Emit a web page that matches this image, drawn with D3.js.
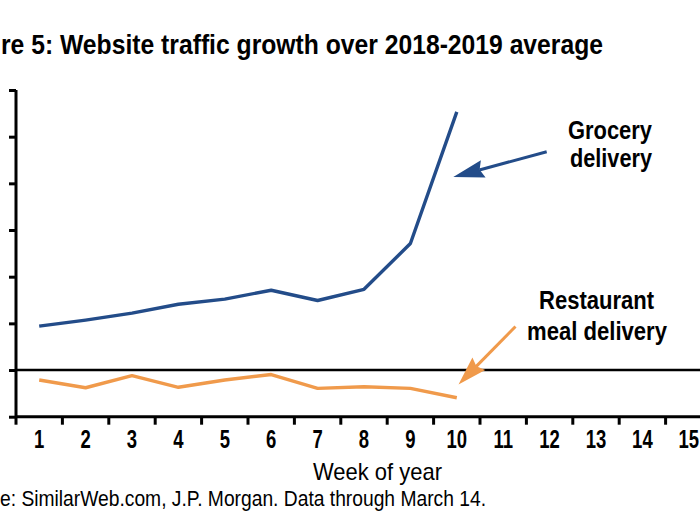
<!DOCTYPE html>
<html>
<head>
<meta charset="utf-8">
<script src="https://cdn.jsdelivr.net/npm/d3@7"></script>
<style>
  html, body { margin: 0; padding: 0; background: #fff; overflow: hidden; }
  text { font-family: "Liberation Sans", Arial, sans-serif; }
</style>
</head>
<body>
<svg id="chart" width="700" height="525"></svg>
<script>
// ---- data ----
const weeks = [1,2,3,4,5,6,7,8,9,10,11,12,13,14,15];
const dataWeeks = [1,2,3,4,5,6,7,8,9,10];
const grocery = [47, 53.5, 61, 70.5, 76, 85.5, 74.5, 86.5, 135.5, 276.5];
const restaurant = [-10.7, -19, -6.1, -18.5, -10.7, -4.8, -19.6, -17.9, -19.6, -29.7];
const yTicks = [-50, 0, 50, 100, 150, 200, 250, 300];
const baseline = 0;
const title = "re 5: Website traffic growth over 2018-2019 average";
const xTitle = "Week of year";
const source = "e: SimilarWeb.com, J.P. Morgan. Data through March 14.";
const groceryLabel = ["Grocery", "delivery"];
const restaurantLabel = ["Restaurant", "meal delivery"];

const blue = "#234C89";
const orange = "#F09A4B";

const svg = d3.select("#chart");

const x = d3.scaleBand().domain(weeks).range([16, 16 + 46.4 * weeks.length]).padding(0);
const y = d3.scaleLinear().domain([-50, 300]).range([416.7, 90]);
const cx = w => x(w) + x.bandwidth() / 2;

// helper: condensed text via textLength
function fitText(sel, txt, x0, y0, width, size, weight, anchor) {
  return sel.append("text").attr("x", x0).attr("y", y0)
    .attr("text-anchor", anchor || "start")
    .attr("font-size", size).attr("font-weight", weight || "normal").attr("fill", "#000")
    .attr("textLength", width).attr("lengthAdjust", "spacingAndGlyphs").text(txt);
}

// Title
fitText(svg, title, 1, 54, 602, 28, "bold");

// Y axis
const yAxis = d3.axisLeft(y).tickValues(yTicks).tickSize(7).tickFormat("");
const gy = svg.append("g").attr("transform", "translate(16,0)").call(yAxis);
gy.select(".domain").attr("stroke", "#000").attr("stroke-width", 3).attr("d", `M0,${y(300)}V${y(-50)}`);
gy.selectAll(".tick line").attr("stroke", "#000").attr("stroke-width", 3);

// X axis (labels centred in bands, tick marks at band edges)
const xAxis = d3.axisBottom(x).tickSize(0).tickPadding(0);
const gx = svg.append("g").attr("transform", `translate(0,${y(-50)})`).call(xAxis);
gx.select(".domain").attr("stroke", "#000").attr("stroke-width", 3).attr("d", `M16,0H700`);
gx.selectAll(".tick text").attr("font-size", 25).attr("font-weight", "bold").attr("fill", "#000")
  .attr("font-family", null).attr("dy", null).attr("y", 31).attr("transform", "scale(0.74,1)");
gx.selectAll(".edge").data(weeks).enter().append("line")
  .attr("x1", d => x(d)).attr("x2", d => x(d))
  .attr("y1", 0).attr("y2", 8).attr("stroke", "#000").attr("stroke-width", 3);

// zero line
svg.append("line").attr("x1", 16).attr("x2", 700).attr("y1", y(baseline)).attr("y2", y(baseline))
  .attr("stroke", "#000").attr("stroke-width", 2.5);

// series
const line = d3.line().x((d, i) => cx(dataWeeks[i])).y(d => y(d));
svg.append("path").datum(grocery).attr("d", line).attr("fill", "none")
  .attr("stroke", blue).attr("stroke-width", 3.4).attr("stroke-linejoin", "round");
svg.append("path").datum(restaurant).attr("d", line).attr("fill", "none")
  .attr("stroke", orange).attr("stroke-width", 3.4).attr("stroke-linejoin", "round");

// arrows
function arrow(x1, y1, x2, y2, color, hl, hw) {
  const ang = Math.atan2(y2 - y1, x2 - x1);
  const c = Math.cos(ang), s = Math.sin(ang);
  const bx = x2 - hl * c, by = y2 - hl * s;
  svg.append("line").attr("x1", x1).attr("y1", y1).attr("x2", bx + 4 * c).attr("y2", by + 4 * s)
    .attr("stroke", color).attr("stroke-width", 3);
  const px = -s * hw, py = c * hw;
  svg.append("path").attr("d", `M${x2},${y2}L${bx + px},${by + py}L${bx + 0.12*hl*c},${by + 0.12*hl*s}L${bx - px},${by - py}Z`)
    .attr("fill", color);
}
arrow(546.7, 151.7, 453.3, 177, blue, 31, 9);
arrow(515.5, 326.5, 458.5, 384.5, orange, 29, 9);

// annotations
fitText(svg, groceryLabel[0], 568, 139, 84, 25, "bold");
fitText(svg, groceryLabel[1], 570, 167, 82, 25, "bold");
fitText(svg, restaurantLabel[0], 539, 309, 115, 25, "bold");
fitText(svg, restaurantLabel[1], 527, 340, 140, 25, "bold");

// axis title + source
fitText(svg, xTitle, 313, 480, 129, 24, "normal");
fitText(svg, source, 0, 506, 486, 22, "normal");
</script>
</body>
</html>
